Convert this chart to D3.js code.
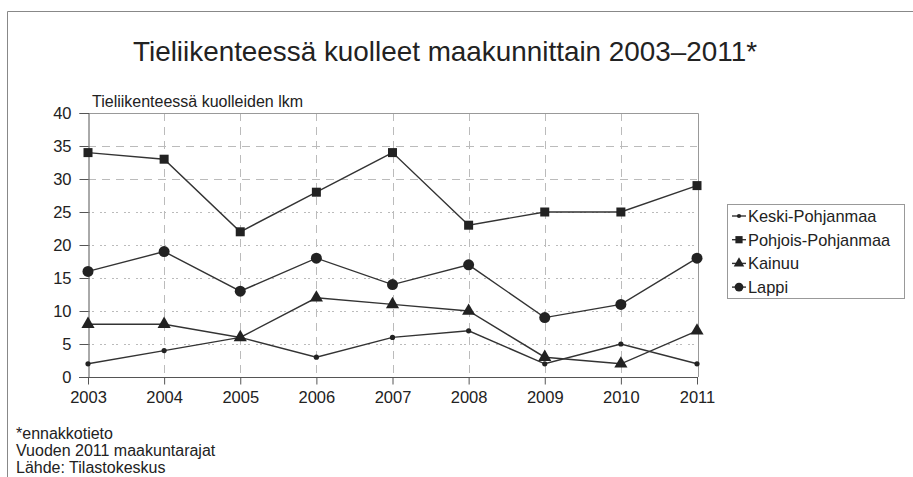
<!DOCTYPE html>
<html><head><meta charset="utf-8">
<script src="https://cdn.jsdelivr.net/npm/d3@7"></script>
<style>
body{margin:0;background:#fff;}
text{font-family:"Liberation Sans",Arial,sans-serif;fill:#222;}
</style></head>
<body>
<svg id="c" width="913" height="477"></svg>
<script>
const years = [2003,2004,2005,2006,2007,2008,2009,2010,2011];
const seriesNames = ["Keski-Pohjanmaa","Pohjois-Pohjanmaa","Kainuu","Lappi"];
const keskiPohjanmaa = [2,4,6,3,6,7,2,5,2];
const pohjoisPohjanmaa = [34,33,22,28,34,23,25,25,29];
const kainuu = [8,8,6,12,11,10,3,2,7];
const lappi = [16,19,13,18,14,17,9,11,18];
const yTicks = [0,5,10,15,20,25,30,35,40];
const title = "Tieliikenteessä kuolleet maakunnittain 2003–2011*";
const yLabel = "Tieliikenteessä kuolleiden lkm";
const notes = ["*ennakkotieto","Vuoden 2011 maakuntarajat","Lähde: Tilastokeskus"];

const series = [
  {name:seriesNames[0], values:keskiPohjanmaa, marker:"dot"},
  {name:seriesNames[1], values:pohjoisPohjanmaa, marker:"square"},
  {name:seriesNames[2], values:kainuu, marker:"triangle"},
  {name:seriesNames[3], values:lappi, marker:"circle"}
];

const svg = d3.select("#c");
// outer frame
svg.append("path").attr("d","M7.5,477 L7.5,11.5 L913,11.5").attr("fill","none").attr("stroke","#888").attr("stroke-width",1);

const L=88, R=697, T=113, B=377;
const x = d3.scalePoint().domain(years).range([L,R]);
const y = d3.scaleLinear().domain([0,40]).range([B,T]);

svg.append("text").attr("x",445).attr("y",61).attr("text-anchor","middle")
  .attr("font-size",28.5).attr("textLength",624).attr("lengthAdjust","spacingAndGlyphs").text(title);
svg.append("text").attr("x",92).attr("y",107).attr("font-size",16).text(yLabel);

// grid
const g = svg.append("g");
g.selectAll("line.h").data(yTicks.filter(d=>d>0&&d<40)).join("line")
  .attr("x1",L).attr("x2",R).attr("y1",d=>y(d)+0.5).attr("y2",d=>y(d)+0.5)
  .attr("stroke","#bbb").attr("stroke-width",1)
  .attr("stroke-dasharray",d=>d>=30?"8,6":"2,2,2,6");
g.selectAll("line.v").data(years.slice(1,-1)).join("line")
  .attr("x1",d=>Math.round(x(d))+0.5).attr("x2",d=>Math.round(x(d))+0.5).attr("y1",T).attr("y2",B)
  .attr("stroke","#bbb").attr("stroke-width",1).attr("stroke-dasharray","8,6");
// plot frame
svg.append("path").attr("d",`M${L},${T+0.5} L${R+1.5},${T+0.5} L${R+1.5},${B}`)
  .attr("fill","none").attr("stroke","#999");

// axes
const ya = svg.append("g").attr("transform",`translate(${L+0.5},0)`)
  .call(d3.axisLeft(y).tickValues(yTicks).tickSize(9).tickPadding(8));
ya.selectAll("text").attr("font-size",16.5);
const xa = svg.append("g").attr("transform",`translate(0,${B+0.5})`)
  .call(d3.axisBottom(x).tickSize(7).tickPadding(7).tickFormat(d3.format("d")));
xa.selectAll("text").attr("font-size",16.5);
svg.selectAll(".domain").attr("stroke","#555");
svg.selectAll(".tick line").attr("stroke","#555");
svg.selectAll(".tick text").attr("fill","#222").style("font-family","'Liberation Sans',Arial,sans-serif");
xa.select(".domain").attr("d",`M${L-9},0H${R+1}`);

function drawMarker(sel, type, s){
  if(type==="dot") sel.append("circle").attr("r",2.6*s).attr("fill","#222");
  else if(type==="square") sel.append("rect").attr("x",-4.5*s).attr("y",-4.5*s).attr("width",9*s).attr("height",9*s).attr("fill","#222");
  else if(type==="triangle") sel.append("path").attr("d",d3.symbol().type(d3.symbolTriangle).size(75*s*s)()).attr("fill","#222");
  else sel.append("circle").attr("r",5.5*s).attr("fill","#222");
}

const line = d3.line().x((d,i)=>x(years[i])).y(d=>y(d));
series.forEach(s=>{
  svg.append("path").attr("d",line(s.values)).attr("fill","none").attr("stroke","#333").attr("stroke-width",1.4);
  s.values.forEach((v,i)=>{
    const m = svg.append("g").attr("transform",`translate(${x(years[i])},${y(v)})`);
    drawMarker(m,s.marker,1);
  });
});

// legend
const lg = svg.append("g");
lg.append("rect").attr("x",727.5).attr("y",204.5).attr("width",177).attr("height",94)
  .attr("fill","#fff").attr("stroke","#999");
series.forEach((s,i)=>{
  const yy = 216+ i*23.7;
  lg.append("line").attr("x1",732).attr("x2",746).attr("y1",yy).attr("y2",yy).attr("stroke","#333").attr("stroke-width",1.4);
  const m = lg.append("g").attr("transform",`translate(739,${yy})`);
  drawMarker(m,s.marker,0.8);
  lg.append("text").attr("x",748).attr("y",yy+6).attr("font-size",16.4).text(s.name);
});

// notes
notes.forEach((n,i)=>{
  svg.append("text").attr("x",16).attr("y",439+i*17).attr("font-size",16).text(n);
});
</script>
</body></html>
